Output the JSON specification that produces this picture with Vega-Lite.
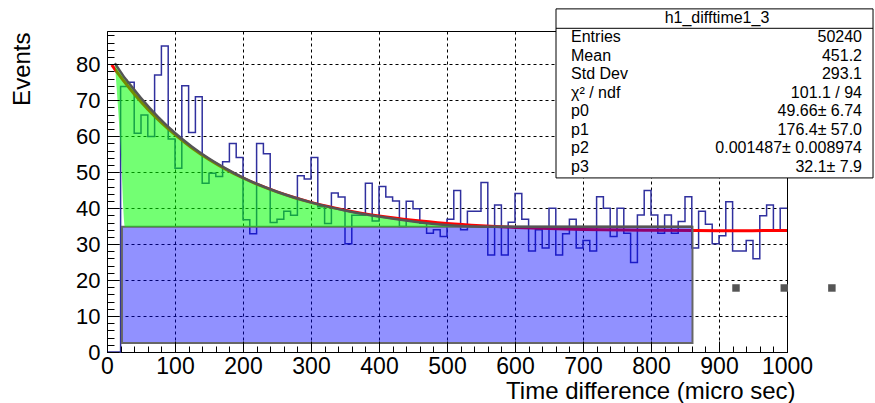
{
  "$schema": "https://vega.github.io/schema/vega-lite/v6.json",
  "width": 680,
  "height": 321,
  "autosize": {"type": "none"},
  "padding": {"left": 107, "top": 31, "right": 88, "bottom": 51},
  "background": "white",
  "config": {
    "view": {"stroke": "black", "strokeWidth": 1},
    "font": "Liberation Sans"
  },
  "datasets": {
    "hist": [
      {"t":0,"n":0},{"t":10,"n":0},{"t":20,"n":73.8},{"t":30,"n":75},{"t":40,"n":60.8},{"t":50,"n":65.9},{"t":60,"n":59.9},{"t":70,"n":77.0},{"t":80,"n":85.1},{"t":90,"n":59.2},
      {"t":100,"n":51.1},{"t":110,"n":74.0},{"t":120,"n":61.0},{"t":130,"n":71.0},{"t":140,"n":46.9},{"t":150,"n":49.7},{"t":160,"n":48.8},{"t":170,"n":52.9},{"t":180,"n":58.0},{"t":190,"n":54.1},
      {"t":200,"n":36.8},{"t":210,"n":32.9},{"t":220,"n":58.0},{"t":230,"n":55.1},{"t":240,"n":36.0},{"t":250,"n":36.9},{"t":260,"n":39.1},{"t":270,"n":38.0},{"t":280,"n":49.0},{"t":290,"n":48.1},
      {"t":300,"n":54.1},{"t":310,"n":40.4},{"t":320,"n":35.7},{"t":330,"n":44.2},{"t":340,"n":43.1},{"t":350,"n":30.1},{"t":360,"n":38.0},{"t":370,"n":38.0},{"t":380,"n":46.9},{"t":390,"n":36.4},
      {"t":400,"n":46.0},{"t":410,"n":43.1},{"t":420,"n":42.0},{"t":430,"n":34.9},{"t":440,"n":41.9},{"t":450,"n":39.8},{"t":460,"n":35.8},{"t":470,"n":33.0},{"t":480,"n":34.0},{"t":490,"n":32.1},
      {"t":500,"n":36.9},{"t":510,"n":44.9},{"t":520,"n":34.0},{"t":530,"n":39.1},{"t":540,"n":39.1},{"t":550,"n":47.1},{"t":560,"n":27.0},{"t":570,"n":40.9},{"t":580,"n":27.0},{"t":590,"n":36.1},
      {"t":600,"n":44.1},{"t":610,"n":36.9},{"t":620,"n":28.1},{"t":630,"n":34.0},{"t":640,"n":28.9},{"t":650,"n":40.0},{"t":660,"n":27.0},{"t":670,"n":32.9},{"t":680,"n":36.9},{"t":690,"n":28.9},
      {"t":700,"n":31.0},{"t":710,"n":28.1},{"t":720,"n":43.2},{"t":730,"n":40.0},{"t":740,"n":32.1},{"t":750,"n":40.0},{"t":760,"n":33.0},{"t":770,"n":24.9},{"t":780,"n":38.1},{"t":790,"n":44.9},
      {"t":800,"n":38.1},{"t":810,"n":33.0},{"t":820,"n":38.1},{"t":830,"n":33.0},{"t":840,"n":36.3},{"t":850,"n":43.2},{"t":860,"n":28.9},{"t":870,"n":39.1},{"t":880,"n":35.5},{"t":890,"n":30.1},
      {"t":900,"n":32.3},{"t":910,"n":41.8},{"t":920,"n":28.1},{"t":930,"n":28.1},{"t":940,"n":31.0},{"t":950,"n":25.9},{"t":960,"n":37.9},{"t":970,"n":40.9},{"t":980,"n":34.0},{"t":990,"n":40.0},
      {"t":1000,"n":40.0}
    ],
    "fit": [
      {"t":7,"f":79.84},{"t":15,"f":77.73},{"t":25,"f":75.24},{"t":40,"f":71.74},{"t":60,"f":67.53},{"t":80,"f":63.77},{"t":100,"f":60.42},{"t":125,"f":56.74},{"t":150,"f":53.54},{"t":175,"f":50.78},
      {"t":200,"f":48.38},{"t":225,"f":46.30},{"t":250,"f":44.50},{"t":275,"f":42.96},{"t":300,"f":41.61},{"t":350,"f":39.45},{"t":400,"f":37.83},{"t":450,"f":36.64},{"t":500,"f":35.76},{"t":550,"f":35.12},
      {"t":600,"f":34.64},{"t":650,"f":34.32},{"t":700,"f":34.08},{"t":800,"f":33.82},{"t":900,"f":33.74},{"t":1000,"f":33.76}
    ],
    "bkg": [
      {"t":11.5,"g":80.3,"b":80.3},{"t":20,"g":77.9,"b":57.0},{"t":26.5,"g":76.1,"b":34.8},{"t":30,"g":75.3,"b":34.8},{"t":50,"g":70.6,"b":34.8},{"t":75,"g":65.4,"b":34.8},{"t":100,"g":60.9,"b":34.8},
      {"t":125,"g":57.1,"b":34.8},{"t":150,"g":53.8,"b":34.8},{"t":175,"g":51.0,"b":34.8},{"t":200,"g":48.5,"b":34.8},{"t":250,"g":44.55,"b":34.8},{"t":300,"g":41.6,"b":34.8},{"t":350,"g":39.35,"b":34.8},
      {"t":400,"g":37.65,"b":34.8},{"t":450,"g":36.3,"b":34.8},{"t":500,"g":35.3,"b":34.8},{"t":550,"g":34.85,"b":34.8},{"t":861,"g":34.8,"b":34.8}
    ],
    "rect": [{"x1":22,"x2":861,"y1":2.5,"y2":34.8}],
    "sq": [{"t":925,"v":17.8},{"t":996,"v":17.8},{"t":1066,"v":17.8}],
    "box": [{"x1":660.3,"x2":1126.5,"y1":48.4,"y2":95.4,"ys":90.0}],
    "stats": [
      {"label":"Entries","value":"50240","y":87.58},
      {"label":"Mean","value":"451.2","y":82.43},
      {"label":"Std Dev","value":"293.1","y":77.28},
      {"label":"χ² / ndf","value":"101.1 / 94","y":72.13},
      {"label":"p0","value":"49.66± 6.74","y":66.97},
      {"label":"p1","value":"176.4± 57.0","y":61.82},
      {"label":"p2","value":"0.001487± 0.008974","y":56.67},
      {"label":"p3","value":"32.1± 7.9","y":51.51}
    ],
    "ttl": [{"text":"h1_difftime1_3","x":897,"y":92.9}]
  },
  "resolve": {"axis": {"x": "independent", "y": "independent"}},
  "layer": [
    {
      "data": {"name": "hist"},
      "mark": {"type": "line", "interpolate": "step-after", "stroke": "#30309e", "strokeWidth": 1.5},
      "encoding": {
        "x": {"field": "t", "type": "quantitative", "scale": {"domain": [0, 1000], "nice": false, "zero": false},
          "axis": {"orient": "bottom", "values": [0,100,200,300,400,500,600,700,800,900,1000], "format": "d", "ticks": false, "domain": false,
            "grid": true, "gridColor": "#000", "gridDash": [3,3], "gridWidth": 1, "gridOpacity": 1,
            "labelFontSize": 23, "labelColor": "#000", "labelPadding": 3, "labelFont": "Liberation Sans",
            "title": "Time difference (micro sec)", "titleFontSize": 24, "titleFontWeight": "normal", "titleColor": "#000", "titleFont": "Liberation Sans",
            "titleAnchor": "end", "titleAlign": "right", "titleX": 688, "titleY": 46, "titleBaseline": "alphabetic", "labelFlush": false}},
        "y": {"field": "n", "type": "quantitative", "scale": {"domain": [0, 89.25], "nice": false, "zero": false},
          "axis": {"orient": "left", "values": [0,10,20,30,40,50,60,70,80], "format": "d", "ticks": false, "domain": false,
            "grid": true, "gridColor": "#000", "gridDash": [3,3], "gridWidth": 1, "gridOpacity": 1,
            "labelFontSize": 22, "labelColor": "#000", "labelPadding": 7, "labelFont": "Liberation Sans", "labelFlush": false,
            "title": "Events", "titleFontSize": 24, "titleFontWeight": "normal", "titleColor": "#000", "titleFont": "Liberation Sans",
            "titleAngle": -90, "titleAlign": "right", "titleBaseline": "middle", "titleX": -85, "titleY": 1}}
      }
    },
    {
      "data": {"name": "hist"},
      "mark": {"type": "point", "opacity": 0},
      "encoding": {
        "x": {"field": "t", "type": "quantitative", "scale": {"domain": [0, 1000], "nice": false, "zero": false},
          "axis": {"orient": "bottom", "values": [0,20,40,60,80,100,120,140,160,180,200,220,240,260,280,300,320,340,360,380,400,420,440,460,480,500,520,540,560,580,600,620,640,660,680,700,720,740,760,780,800,820,840,860,880,900,920,940,960,980,1000],
            "tickSize": -6, "tickColor": "#000", "labels": false, "domain": false, "grid": false, "title": null, "zindex": 1}},
        "y": {"field": "n", "type": "quantitative", "scale": {"domain": [0, 89.25], "nice": false, "zero": false},
          "axis": {"orient": "left", "values": [0,2,4,6,8,10,12,14,16,18,20,22,24,26,28,30,32,34,36,38,40,42,44,46,48,50,52,54,56,58,60,62,64,66,68,70,72,74,76,78,80,82,84,86,88],
            "tickSize": -7, "tickColor": "#000", "labels": false, "domain": false, "grid": false, "title": null, "zindex": 1}}
      }
    },
    {
      "data": {"name": "hist"},
      "mark": {"type": "point", "opacity": 0},
      "encoding": {
        "x": {"field": "t", "type": "quantitative", "scale": {"domain": [0, 1000], "nice": false, "zero": false},
          "axis": {"orient": "bottom", "values": [0,100,200,300,400,500,600,700,800,900,1000],
            "tickSize": -11, "tickColor": "#000", "labels": false, "domain": false, "grid": false, "title": null, "zindex": 1}},
        "y": {"field": "n", "type": "quantitative", "scale": {"domain": [0, 89.25], "nice": false, "zero": false},
          "axis": {"orient": "left", "values": [0,10,20,30,40,50,60,70,80],
            "tickSize": -12, "tickColor": "#000", "labels": false, "domain": false, "grid": false, "title": null, "zindex": 1}}
      }
    },
    {
      "data": {"name": "fit"},
      "mark": {"type": "line", "interpolate": "monotone", "stroke": "#ff0000", "strokeWidth": 3},
      "encoding": {
        "x": {"field": "t", "type": "quantitative", "axis": null},
        "y": {"field": "f", "type": "quantitative", "axis": null}
      }
    },
    {
      "data": {"name": "rect"},
      "mark": {"type": "rect", "fill": "#0000ff", "fillOpacity": 0.43, "stroke": "#666666", "strokeWidth": 2},
      "encoding": {
        "x": {"field": "x1", "type": "quantitative", "axis": null},
        "x2": {"field": "x2"},
        "y": {"field": "y1", "type": "quantitative", "axis": null},
        "y2": {"field": "y2"}
      }
    },
    {
      "data": {"name": "bkg"},
      "mark": {"type": "area", "interpolate": "monotone", "fill": "#00ff00", "fillOpacity": 0.55},
      "encoding": {
        "x": {"field": "t", "type": "quantitative", "axis": null},
        "y": {"field": "g", "type": "quantitative", "axis": null},
        "y2": {"field": "b"}
      }
    },
    {
      "data": {"name": "bkg"},
      "mark": {"type": "line", "interpolate": "monotone", "stroke": "#555555", "strokeWidth": 2.5},
      "encoding": {
        "x": {"field": "t", "type": "quantitative", "axis": null},
        "y": {"field": "g", "type": "quantitative", "axis": null}
      }
    },
    {
      "data": {"name": "sq"},
      "mark": {"type": "square", "filled": true, "fill": "#555555", "opacity": 1, "size": 56},
      "encoding": {
        "x": {"field": "t", "type": "quantitative", "axis": null},
        "y": {"field": "v", "type": "quantitative", "axis": null}
      }
    },
    {
      "data": {"name": "box"},
      "mark": {"type": "rect", "fill": "white", "stroke": "#000", "strokeWidth": 1},
      "encoding": {
        "x": {"field": "x1", "type": "quantitative", "axis": null},
        "x2": {"field": "x2"},
        "y": {"field": "y1", "type": "quantitative", "axis": null},
        "y2": {"field": "y2"}
      }
    },
    {
      "data": {"name": "box"},
      "mark": {"type": "rule", "stroke": "#000", "strokeWidth": 1},
      "encoding": {
        "x": {"field": "x1", "type": "quantitative", "axis": null},
        "x2": {"field": "x2"},
        "y": {"field": "ys", "type": "quantitative", "axis": null}
      }
    },
    {
      "data": {"name": "ttl"},
      "mark": {"type": "text", "fontSize": 16, "font": "Liberation Sans", "align": "center", "baseline": "middle", "color": "#000"},
      "encoding": {
        "x": {"field": "x", "type": "quantitative", "axis": null},
        "y": {"field": "y", "type": "quantitative", "axis": null},
        "text": {"field": "text"}
      }
    },
    {
      "data": {"name": "stats"},
      "mark": {"type": "text", "fontSize": 16, "font": "Liberation Sans", "align": "left", "baseline": "middle", "color": "#000"},
      "encoding": {
        "x": {"datum": 682.4, "type": "quantitative", "axis": null},
        "y": {"field": "y", "type": "quantitative", "axis": null},
        "text": {"field": "label"}
      }
    },
    {
      "data": {"name": "stats"},
      "mark": {"type": "text", "fontSize": 16, "font": "Liberation Sans", "align": "right", "baseline": "middle", "color": "#000"},
      "encoding": {
        "x": {"datum": 1110.3, "type": "quantitative", "axis": null},
        "y": {"field": "y", "type": "quantitative", "axis": null},
        "text": {"field": "value"}
      }
    }
  ]
}
